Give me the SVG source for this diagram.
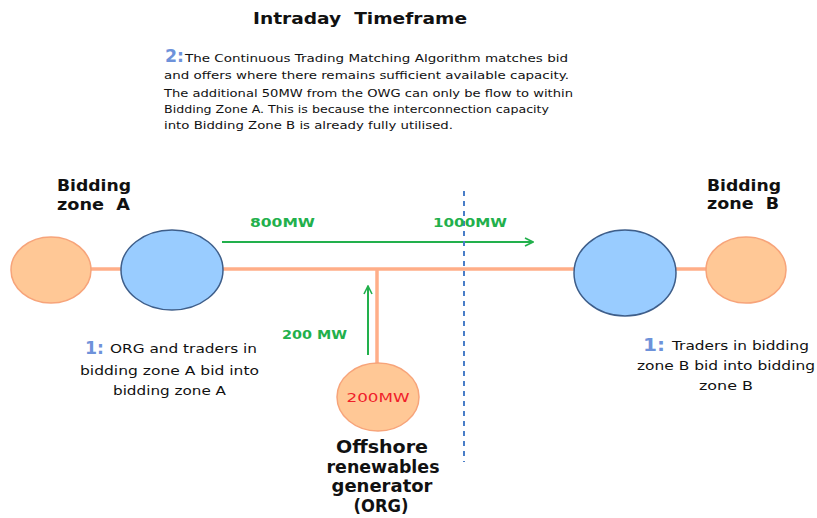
<svg xmlns="http://www.w3.org/2000/svg" width="817" height="518" viewBox="0 0 817 518">
<style>
.t{font-family:"DejaVu Sans","Verdana",sans-serif;fill:#111}
.b{font-weight:bold}
.g{fill:#22B04C;font-weight:bold;font-size:12px;font-family:"DejaVu Sans",sans-serif}
.n{font-size:11px}
.one{fill:#6E92DA;font-size:17px;font-weight:bold;font-family:"DejaVu Sans",sans-serif}
.org{fill:#FFC896;stroke:#F7A47A;stroke-width:1.5}
.blu{fill:#99CCFF;stroke:#3E5E8A;stroke-width:1.5}
.ln{stroke:#FFAE88;stroke-width:3.5;fill:none}
.ar{stroke:#22B04C;stroke-width:2;fill:none}
</style>
<defs>
<marker id="chev" viewBox="0 0 10 10" refX="9" refY="5" markerWidth="10" markerHeight="10" markerUnits="userSpaceOnUse" orient="auto">
<path d="M1,1 L9,5 L1,9" fill="none" stroke="#22B04C" stroke-width="1.6"/>
</marker>
</defs>
<rect width="817" height="518" fill="#fff"/>
<text class="t b" x="253" y="24" font-size="16.5" textLength="214" lengthAdjust="spacingAndGlyphs" xml:space="preserve">Intraday  Timeframe</text>
<g id="note2">
<text x="165" y="62"><tspan class="one" font-size="16" textLength="19" lengthAdjust="spacingAndGlyphs">2:</tspan></text>
<text class="t n" x="185" y="62" textLength="383" lengthAdjust="spacingAndGlyphs">The Continuous Trading Matching Algorithm matches bid</text>
<text class="t n" x="164" y="79" textLength="405" lengthAdjust="spacingAndGlyphs">and offers where there remains sufficient available capacity.</text>
<text class="t n" x="164" y="97" textLength="409" lengthAdjust="spacingAndGlyphs">The additional 50MW from the OWG can only be flow to within</text>
<text class="t n" x="164" y="113" textLength="385" lengthAdjust="spacingAndGlyphs">Bidding Zone A. This is because the interconnection capacity</text>
<text class="t n" x="164" y="129" textLength="289" lengthAdjust="spacingAndGlyphs">into Bidding Zone B is already fully utilised.</text>
</g>
<g id="connectors">
<line class="ln" x1="90" y1="269" x2="122" y2="269"/>
<line class="ln" x1="222" y1="269" x2="575" y2="269"/>
<line class="ln" x1="676" y1="269" x2="707" y2="269"/>
<line class="ln" x1="377" y1="269" x2="377" y2="364"/>
<line class="ar" x1="222" y1="242" x2="533" y2="242" marker-end="url(#chev)"/>
<line class="ar" x1="368" y1="355" x2="368" y2="286" marker-end="url(#chev)"/>
<line x1="464" y1="191" x2="464" y2="462" stroke="#4A7EC8" stroke-width="2" stroke-dasharray="5,5"/>
</g>
<g id="zoneA-gen">
<ellipse class="org" cx="51" cy="270" rx="40" ry="33"/>
</g>
<g id="zoneA-hub">
<ellipse class="blu" cx="172" cy="270" rx="51" ry="40"/>
</g>
<g id="zoneB-hub">
<ellipse class="blu" cx="625" cy="273" rx="51" ry="43"/>
</g>
<g id="zoneB-gen">
<ellipse class="org" cx="746" cy="270" rx="40" ry="33"/>
</g>
<g id="org">
<ellipse class="org" cx="378" cy="397" rx="41" ry="34"/>
<text x="378" y="402" text-anchor="middle" font-family="DejaVu Sans,sans-serif" font-size="12" fill="#F0202A" textLength="63" lengthAdjust="spacingAndGlyphs">200MW</text>
<g class="t b" font-size="17" text-anchor="middle">
<text x="382" y="453" textLength="92" lengthAdjust="spacingAndGlyphs">Offshore</text>
<text x="383" y="473" textLength="113" lengthAdjust="spacingAndGlyphs">renewables</text>
<text x="382" y="492" textLength="101" lengthAdjust="spacingAndGlyphs">generator</text>
<text x="381" y="512" textLength="55" lengthAdjust="spacingAndGlyphs">(ORG)</text>
</g>
</g>
<g id="labels">
<text class="t b" x="57" y="191" font-size="15" textLength="74" lengthAdjust="spacingAndGlyphs">Bidding</text>
<text class="t b" x="57" y="210" font-size="15" textLength="73" lengthAdjust="spacingAndGlyphs" xml:space="preserve">zone  A</text>
<text class="t b" x="707" y="191" font-size="15" textLength="74" lengthAdjust="spacingAndGlyphs">Bidding</text>
<text class="t b" x="707" y="209" font-size="15" textLength="72" lengthAdjust="spacingAndGlyphs" xml:space="preserve">zone  B</text>
<text class="g" x="250" y="227" textLength="65" lengthAdjust="spacingAndGlyphs">800MW</text>
<text class="g" x="433" y="227" textLength="74" lengthAdjust="spacingAndGlyphs">1000MW</text>
<text class="g" x="282" y="339" textLength="65" lengthAdjust="spacingAndGlyphs">200 MW</text>
<text class="one" x="85" y="354" textLength="19" lengthAdjust="spacingAndGlyphs">1:</text>
<text class="t" x="110" y="353" font-size="12.5" textLength="147" lengthAdjust="spacingAndGlyphs">ORG and traders  in</text>
<text class="t" x="80" y="375" font-size="12.5" textLength="179" lengthAdjust="spacingAndGlyphs">bidding zone A bid into</text>
<text class="t" x="113" y="395" font-size="12.5" textLength="113" lengthAdjust="spacingAndGlyphs">bidding zone A</text>
<text class="one" x="643" y="351" textLength="22" lengthAdjust="spacingAndGlyphs">1:</text>
<text class="t" x="672" y="350" font-size="12" textLength="137" lengthAdjust="spacingAndGlyphs">Traders in bidding</text>
<text class="t" x="637" y="370" font-size="12" textLength="178" lengthAdjust="spacingAndGlyphs">zone B bid into bidding</text>
<text class="t" x="699" y="390" font-size="12" textLength="54" lengthAdjust="spacingAndGlyphs">zone B</text>
</g>
</svg>
